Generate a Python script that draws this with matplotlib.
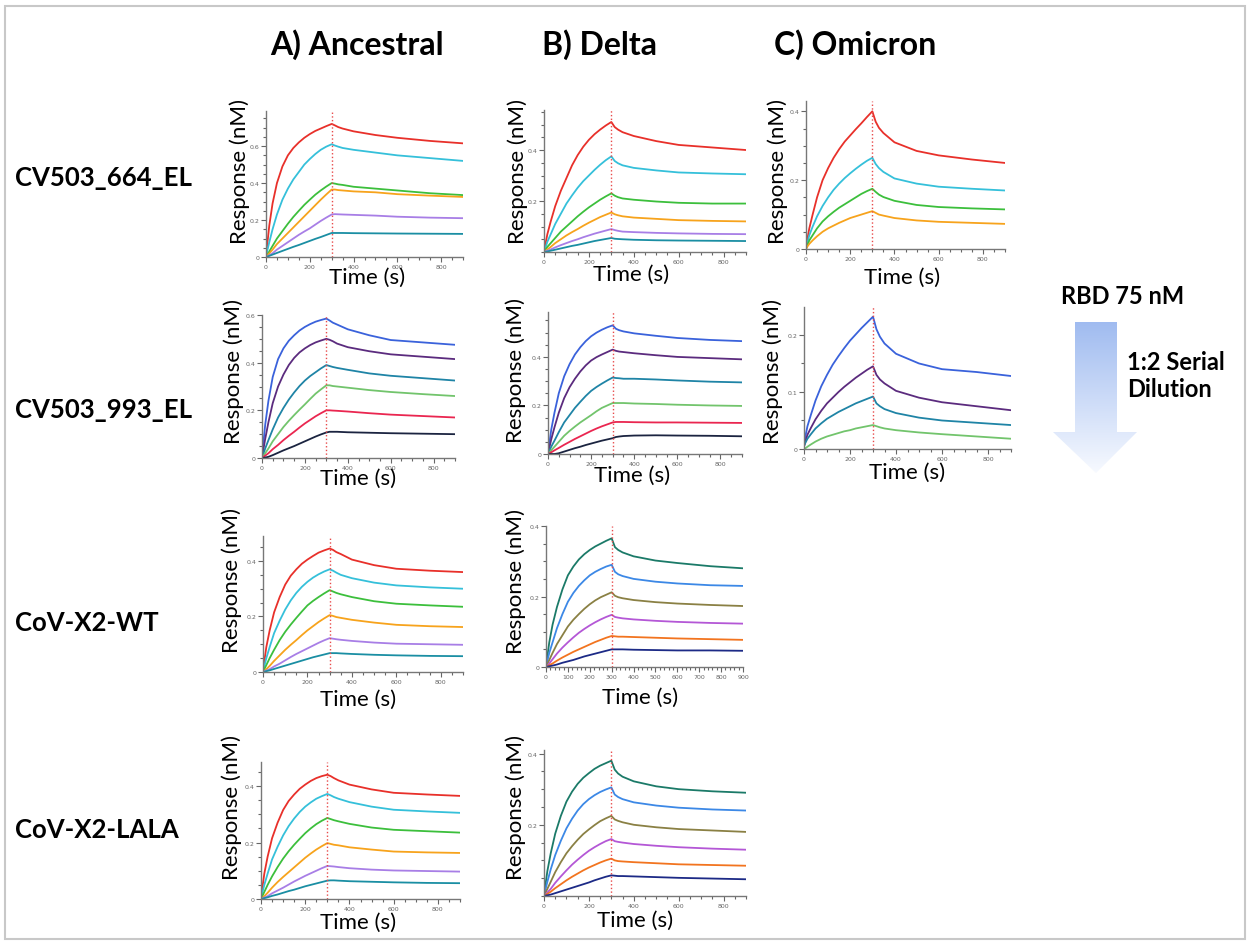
import matplotlib
matplotlib.use("Agg")
import matplotlib.pyplot as plt
import numpy as np
from matplotlib.patches import Polygon, Rectangle
from matplotlib.ticker import MultipleLocator, FixedLocator, FuncFormatter

plt.rcParams['font.family'] = ['Lato', 'DejaVu Sans']

t = [0, 5, 15, 30, 50, 75, 100, 125, 150, 175, 200, 225, 250, 275, 300,
     315, 330, 350, 400, 500, 600, 750, 900]

# CV503_664_EL
anc_664 = [
    [0, 0.06, 0.17, 0.29, 0.40, 0.49, 0.55, 0.59, 0.62, 0.645, 0.665, 0.682, 0.695, 0.708, 0.72, 0.712, 0.703, 0.695, 0.68, 0.66, 0.645, 0.628, 0.615],
    [0, 0.03, 0.08, 0.15, 0.23, 0.31, 0.37, 0.42, 0.46, 0.50, 0.53, 0.557, 0.58, 0.597, 0.61, 0.603, 0.597, 0.59, 0.58, 0.565, 0.55, 0.535, 0.52],
    [0, 0.01, 0.03, 0.06, 0.10, 0.14, 0.18, 0.217, 0.25, 0.282, 0.31, 0.337, 0.36, 0.381, 0.40, 0.397, 0.393, 0.39, 0.38, 0.37, 0.36, 0.345, 0.335],
    [0, 0.007, 0.02, 0.04, 0.07, 0.10, 0.13, 0.16, 0.19, 0.22, 0.25, 0.28, 0.31, 0.338, 0.365, 0.365, 0.362, 0.36, 0.355, 0.35, 0.34, 0.332, 0.325],
    [0, 0.003, 0.01, 0.02, 0.04, 0.06, 0.08, 0.10, 0.12, 0.138, 0.155, 0.175, 0.195, 0.213, 0.23, 0.232, 0.231, 0.23, 0.228, 0.224, 0.218, 0.213, 0.21],
    [0, 0.002, 0.006, 0.013, 0.022, 0.033, 0.044, 0.055, 0.065, 0.076, 0.087, 0.098, 0.108, 0.119, 0.13, 0.13, 0.13, 0.13, 0.129, 0.128, 0.127, 0.126, 0.125],
]
del_664 = [
    [0, 0.025, 0.07, 0.12, 0.18, 0.24, 0.29, 0.34, 0.38, 0.413, 0.44, 0.462, 0.48, 0.496, 0.51, 0.49, 0.48, 0.47, 0.455, 0.435, 0.42, 0.41, 0.40],
    [0, 0.013, 0.04, 0.07, 0.11, 0.15, 0.19, 0.222, 0.252, 0.278, 0.30, 0.322, 0.342, 0.36, 0.375, 0.357, 0.348, 0.34, 0.33, 0.32, 0.312, 0.308, 0.305],
    [0, 0.007, 0.02, 0.035, 0.055, 0.08, 0.10, 0.12, 0.14, 0.158, 0.175, 0.19, 0.205, 0.218, 0.23, 0.221, 0.215, 0.21, 0.205, 0.198, 0.193, 0.19, 0.19],
    [0, 0.003, 0.01, 0.02, 0.035, 0.05, 0.065, 0.078, 0.09, 0.103, 0.115, 0.126, 0.137, 0.146, 0.155, 0.148, 0.144, 0.14, 0.135, 0.13, 0.125, 0.122, 0.12],
    [0, 0.002, 0.005, 0.01, 0.018, 0.027, 0.035, 0.043, 0.05, 0.058, 0.065, 0.072, 0.078, 0.084, 0.09, 0.086, 0.083, 0.08, 0.078, 0.075, 0.073, 0.071, 0.07],
    [0, 0.001, 0.002, 0.005, 0.009, 0.014, 0.019, 0.024, 0.028, 0.033, 0.038, 0.043, 0.047, 0.051, 0.055, 0.052, 0.051, 0.05, 0.048, 0.046, 0.045, 0.044, 0.043],
]
omi_664 = [
    [0, 0.025, 0.06, 0.10, 0.15, 0.20, 0.235, 0.265, 0.29, 0.312, 0.33, 0.348, 0.365, 0.383, 0.40, 0.37, 0.352, 0.337, 0.31, 0.285, 0.272, 0.26, 0.25],
    [0, 0.015, 0.04, 0.065, 0.095, 0.125, 0.15, 0.172, 0.19, 0.206, 0.22, 0.233, 0.245, 0.256, 0.265, 0.247, 0.235, 0.224, 0.205, 0.19, 0.181, 0.175, 0.17],
    [0, 0.01, 0.025, 0.04, 0.06, 0.08, 0.095, 0.108, 0.12, 0.13, 0.14, 0.15, 0.16, 0.168, 0.175, 0.166, 0.158, 0.151, 0.14, 0.128, 0.122, 0.118, 0.115],
    [0, 0.006, 0.015, 0.025, 0.037, 0.05, 0.06, 0.068, 0.076, 0.083, 0.09, 0.095, 0.10, 0.105, 0.11, 0.105, 0.10, 0.097, 0.09, 0.083, 0.079, 0.076, 0.073],
]

# CV503_993_EL
anc_993 = [
    [0, 0.05, 0.14, 0.24, 0.34, 0.415, 0.46, 0.492, 0.515, 0.535, 0.55, 0.562, 0.572, 0.579, 0.585, 0.577, 0.568, 0.56, 0.54, 0.515, 0.495, 0.485, 0.475],
    [0, 0.028, 0.08, 0.15, 0.23, 0.30, 0.35, 0.39, 0.42, 0.443, 0.46, 0.474, 0.485, 0.493, 0.50, 0.496, 0.49, 0.48, 0.465, 0.448, 0.435, 0.425, 0.415],
    [0, 0.013, 0.04, 0.075, 0.12, 0.17, 0.21, 0.245, 0.275, 0.302, 0.325, 0.344, 0.36, 0.376, 0.39, 0.386, 0.382, 0.378, 0.37, 0.355, 0.345, 0.335, 0.325],
    [0, 0.007, 0.02, 0.04, 0.07, 0.10, 0.13, 0.156, 0.18, 0.203, 0.225, 0.248, 0.27, 0.288, 0.305, 0.305, 0.302, 0.30, 0.295, 0.285, 0.277, 0.268, 0.26],
    [0, 0.003, 0.01, 0.02, 0.037, 0.055, 0.075, 0.093, 0.11, 0.128, 0.145, 0.16, 0.175, 0.188, 0.20, 0.20, 0.199, 0.198, 0.195, 0.188, 0.182, 0.176, 0.17],
    [0, 0, 0.002, 0.005, 0.012, 0.022, 0.032, 0.041, 0.05, 0.06, 0.07, 0.08, 0.09, 0.099, 0.107, 0.11, 0.11, 0.11, 0.108, 0.106, 0.104, 0.102, 0.10],
]
del_993 = [
    [0, 0.035, 0.10, 0.17, 0.25, 0.32, 0.37, 0.41, 0.44, 0.465, 0.485, 0.50, 0.512, 0.522, 0.53, 0.516, 0.51, 0.505, 0.497, 0.487, 0.478, 0.47, 0.465],
    [0, 0.02, 0.06, 0.11, 0.17, 0.23, 0.275, 0.31, 0.34, 0.365, 0.385, 0.399, 0.41, 0.42, 0.43, 0.425, 0.422, 0.42, 0.415, 0.407, 0.40, 0.395, 0.39],
    [0, 0.01, 0.03, 0.055, 0.09, 0.13, 0.16, 0.19, 0.215, 0.239, 0.26, 0.276, 0.29, 0.303, 0.315, 0.313, 0.312, 0.31, 0.31, 0.307, 0.303, 0.298, 0.295],
    [0, 0.005, 0.015, 0.03, 0.05, 0.075, 0.095, 0.113, 0.13, 0.145, 0.16, 0.176, 0.19, 0.20, 0.21, 0.21, 0.21, 0.21, 0.208, 0.206, 0.203, 0.20, 0.198],
    [0, 0.002, 0.007, 0.015, 0.025, 0.038, 0.05, 0.062, 0.073, 0.084, 0.095, 0.105, 0.114, 0.122, 0.13, 0.132, 0.132, 0.132, 0.131, 0.13, 0.13, 0.129, 0.128],
    [0, 0, 0, 0, 0.003, 0.01, 0.017, 0.024, 0.03, 0.037, 0.043, 0.049, 0.055, 0.06, 0.065, 0.07, 0.072, 0.074, 0.076, 0.077, 0.076, 0.075, 0.073],
]
omi_993 = [
    [0.005, 0.02, 0.04, 0.06, 0.085, 0.11, 0.13, 0.148, 0.163, 0.177, 0.19, 0.201, 0.212, 0.222, 0.232, 0.21, 0.197, 0.185, 0.167, 0.15, 0.14, 0.135, 0.128],
    [0.005, 0.012, 0.025, 0.037, 0.052, 0.067, 0.08, 0.09, 0.10, 0.109, 0.117, 0.125, 0.132, 0.139, 0.145, 0.13, 0.122, 0.115, 0.102, 0.09, 0.082, 0.075, 0.068],
    [0.005, 0.01, 0.018, 0.026, 0.036, 0.045, 0.053, 0.059, 0.065, 0.07, 0.075, 0.08, 0.084, 0.088, 0.092, 0.08, 0.075, 0.07, 0.063, 0.055, 0.05, 0.046, 0.042],
    [0, 0.001, 0.004, 0.008, 0.013, 0.018, 0.022, 0.025, 0.028, 0.031, 0.033, 0.036, 0.038, 0.04, 0.042, 0.04, 0.038, 0.036, 0.033, 0.029, 0.026, 0.022, 0.018],
]

# CoV-X2-WT
anc_wt = [
    [0, 0.033, 0.09, 0.15, 0.215, 0.27, 0.315, 0.347, 0.37, 0.39, 0.405, 0.418, 0.43, 0.438, 0.445, 0.44, 0.432, 0.425, 0.405, 0.385, 0.372, 0.365, 0.36],
    [0, 0.018, 0.05, 0.09, 0.14, 0.185, 0.225, 0.258, 0.285, 0.307, 0.325, 0.34, 0.352, 0.362, 0.37, 0.365, 0.358, 0.35, 0.338, 0.322, 0.312, 0.305, 0.30],
    [0, 0.008, 0.025, 0.05, 0.08, 0.115, 0.145, 0.171, 0.195, 0.218, 0.24, 0.256, 0.27, 0.283, 0.295, 0.29, 0.285, 0.28, 0.27, 0.255, 0.246, 0.24, 0.235],
    [0, 0.003, 0.01, 0.022, 0.04, 0.06, 0.08, 0.098, 0.115, 0.133, 0.15, 0.165, 0.18, 0.193, 0.205, 0.202, 0.198, 0.195, 0.188, 0.178, 0.17, 0.165, 0.162],
    [0, 0.002, 0.005, 0.01, 0.02, 0.03, 0.042, 0.054, 0.065, 0.075, 0.085, 0.095, 0.105, 0.114, 0.122, 0.12, 0.118, 0.116, 0.112, 0.106, 0.102, 0.10, 0.098],
    [0, 0.001, 0.003, 0.006, 0.011, 0.017, 0.023, 0.029, 0.035, 0.041, 0.047, 0.053, 0.058, 0.063, 0.068, 0.068, 0.068, 0.067, 0.065, 0.062, 0.06, 0.058, 0.057],
]
del_wt = [
    [0, 0.025, 0.07, 0.12, 0.17, 0.22, 0.26, 0.285, 0.305, 0.32, 0.332, 0.342, 0.35, 0.358, 0.365, 0.34, 0.332, 0.325, 0.314, 0.302, 0.295, 0.286, 0.28],
    [0, 0.014, 0.04, 0.07, 0.11, 0.15, 0.185, 0.21, 0.23, 0.246, 0.26, 0.27, 0.278, 0.285, 0.29, 0.27, 0.263, 0.258, 0.25, 0.242, 0.237, 0.232, 0.23],
    [0, 0.007, 0.02, 0.04, 0.065, 0.09, 0.115, 0.134, 0.15, 0.165, 0.178, 0.189, 0.198, 0.205, 0.212, 0.202, 0.198, 0.195, 0.19, 0.184, 0.18, 0.176, 0.173],
    [0, 0.003, 0.01, 0.022, 0.038, 0.055, 0.07, 0.084, 0.097, 0.108, 0.118, 0.127, 0.135, 0.142, 0.148, 0.142, 0.14, 0.138, 0.135, 0.131, 0.128, 0.125, 0.123],
    [0, 0.002, 0.005, 0.01, 0.018, 0.027, 0.035, 0.043, 0.05, 0.057, 0.064, 0.071, 0.077, 0.083, 0.088, 0.087, 0.086, 0.086, 0.085, 0.083, 0.081, 0.079, 0.077],
    [0, 0.001, 0.002, 0.004, 0.007, 0.012, 0.016, 0.02, 0.025, 0.03, 0.034, 0.038, 0.042, 0.046, 0.05, 0.05, 0.05, 0.05, 0.049, 0.048, 0.047, 0.047, 0.046],
]

# CoV-X2-LALA
anc_lala = [
    [0, 0.033, 0.09, 0.15, 0.215, 0.27, 0.315, 0.347, 0.37, 0.39, 0.405, 0.418, 0.428, 0.435, 0.44, 0.435, 0.428, 0.42, 0.405, 0.388, 0.376, 0.37, 0.365],
    [0, 0.018, 0.05, 0.09, 0.14, 0.185, 0.225, 0.258, 0.285, 0.308, 0.327, 0.342, 0.355, 0.364, 0.372, 0.367, 0.361, 0.355, 0.343, 0.327, 0.316, 0.31, 0.305],
    [0, 0.008, 0.025, 0.05, 0.08, 0.113, 0.143, 0.169, 0.192, 0.213, 0.233, 0.25, 0.265, 0.277, 0.287, 0.283, 0.279, 0.275, 0.266, 0.253, 0.245, 0.24, 0.235],
    [0, 0.003, 0.01, 0.022, 0.04, 0.06, 0.078, 0.095, 0.112, 0.129, 0.146, 0.161, 0.175, 0.187, 0.198, 0.195, 0.192, 0.19, 0.183, 0.175, 0.168, 0.165, 0.163],
    [0, 0.002, 0.005, 0.01, 0.02, 0.03, 0.04, 0.051, 0.062, 0.072, 0.082, 0.091, 0.10, 0.109, 0.117, 0.116, 0.115, 0.113, 0.109, 0.104, 0.101, 0.099, 0.097],
    [0, 0.001, 0.003, 0.006, 0.011, 0.016, 0.022, 0.028, 0.033, 0.039, 0.045, 0.05, 0.055, 0.06, 0.065, 0.066, 0.066, 0.065, 0.063, 0.061, 0.059, 0.057, 0.056],
]
del_lala = [
    [0, 0.025, 0.07, 0.12, 0.175, 0.225, 0.265, 0.293, 0.315, 0.332, 0.345, 0.357, 0.366, 0.373, 0.38, 0.355, 0.344, 0.335, 0.322, 0.308, 0.30, 0.294, 0.29],
    [0, 0.014, 0.04, 0.075, 0.115, 0.155, 0.19, 0.217, 0.24, 0.258, 0.272, 0.283, 0.292, 0.299, 0.305, 0.285, 0.278, 0.272, 0.263, 0.254, 0.248, 0.243, 0.24],
    [0, 0.007, 0.02, 0.04, 0.067, 0.095, 0.12, 0.14, 0.158, 0.174, 0.187, 0.199, 0.21, 0.218, 0.225, 0.215, 0.211, 0.207, 0.20, 0.193, 0.188, 0.184, 0.18],
    [0, 0.003, 0.01, 0.02, 0.037, 0.055, 0.072, 0.088, 0.102, 0.115, 0.127, 0.137, 0.146, 0.154, 0.16, 0.154, 0.152, 0.15, 0.146, 0.141, 0.137, 0.133, 0.13],
    [0, 0.002, 0.006, 0.012, 0.022, 0.033, 0.044, 0.054, 0.063, 0.072, 0.08, 0.087, 0.094, 0.10, 0.105, 0.10, 0.098, 0.097, 0.095, 0.092, 0.089, 0.087, 0.085],
    [0, 0.001, 0.002, 0.004, 0.008, 0.013, 0.018, 0.023, 0.028, 0.033, 0.038, 0.044, 0.049, 0.054, 0.058, 0.057, 0.056, 0.056, 0.055, 0.053, 0.051, 0.049, 0.047],
]

col_titles = ["A) Ancestral", "B) Delta", "C) Omicron"]
row_names = ["CV503_664_EL", "CV503_993_EL", "CoV-X2-WT", "CoV-X2-LALA"]

# colour sets
c_rainbow = ['#e8302a', '#35c0da', '#3cbf3c', '#f7a31c', '#a87ee6', '#1a8ea3']
c_993 = ['#3a62db', '#5b2b7e', '#1f84a6', '#72c46c', '#ea2650', '#1b2440']
c_delta = ['#1b7a68', '#3c88e6', '#8a8044', '#b457d6', '#f2741f', '#1c2a86']

W, H = 1251, 945
fig = plt.figure(figsize=(12.51, 9.45), dpi=100)

# background layer in pixel coordinates (frame + arrow)
bg = fig.add_axes([0, 0, 1, 1])
bg.set_xlim(0, W)
bg.set_ylim(H, 0)
bg.axis('off')
bg.add_patch(Rectangle((5, 7), 1240, 933, fill=False, ec='#c8c8c8', lw=1.5))

arrow = Polygon([(1075, 323), (1117, 323), (1117, 433), (1137, 433), (1096, 474),
                 (1053, 433), (1075, 433)], closed=True, fc='none', ec='none',
                transform=bg.transData)
bg.add_patch(arrow)
grad = np.linspace(0, 1, 200)[:, None]
top_c = np.array([0.62, 0.73, 0.94])
bot_c = np.array([0.97, 0.98, 1.0])
rgb = (top_c[None, None, :] * (1 - grad[:, :, None]) + bot_c[None, None, :] * grad[:, :, None])
im = bg.imshow(rgb, extent=(1050, 1140, 475, 320), origin='upper', aspect='auto')
im.set_clip_path(arrow)
bg.set_xlim(0, W)
bg.set_ylim(H, 0)

fig.text(1123 / W, 1 - 297 / H, "RBD 75 nM", ha='center', va='center', fontsize=17, fontweight='bold')
fig.text(1127 / W, 1 - 376 / H, "1:2 Serial\nDilution", ha='left', va='center', fontsize=17,
         fontweight='bold', linespacing=1.25)

# column titles and row names
for name, cx in zip(col_titles, [357, 600, 855]):
    fig.text(cx / W, 1 - 45 / H, name, ha='center', va='center', fontsize=23, fontweight='bold')
for name, cy in zip(row_names, [178, 410, 623, 830]):
    fig.text(15 / W, 1 - cy / H, name, ha='left', va='center', fontsize=18.5, fontweight='bold')


def fmt(v, pos):
    return '0' if abs(v) < 1e-9 else '%g' % v


def panel(px, ymax, curves, colors, yticks, ylab, xlab, xstep=200, xminor=50):
    x0, x1, ytop, ybot = px
    w, h = x1 - x0, ybot - ytop
    ax = fig.add_axes([x0 / W, 1 - ybot / H, w / W, h / H])
    for c, col in zip(curves, colors):
        ax.plot(t, c, color=col, lw=1.3, solid_joinstyle='round')
    ax.axvline(300, color='#e84a4a', ls=':', lw=1)
    ax.set_xlim(0, 900)
    ax.set_ylim(0, ymax)
    ax.patch.set_alpha(0)
    for s in ['top', 'right']:
        ax.spines[s].set_visible(False)
    for s in ['left', 'bottom']:
        ax.spines[s].set_color('#777777')
        ax.spines[s].set_linewidth(1)
    ax.xaxis.set_major_locator(MultipleLocator(xstep))
    ax.xaxis.set_minor_locator(MultipleLocator(xminor))
    ax.yaxis.set_major_locator(FixedLocator(yticks))
    ax.yaxis.set_minor_locator(MultipleLocator(0.05))
    ax.xaxis.set_major_formatter(FuncFormatter(fmt))
    ax.yaxis.set_major_formatter(FuncFormatter(fmt))
    ax.tick_params(which='both', direction='out', colors='#666666', labelsize=4.5, width=0.8)
    ax.tick_params(which='major', length=3.5, pad=1.2)
    ax.tick_params(which='minor', length=2.5)
    for lab in ax.get_xticklabels() + ax.get_yticklabels():
        lab.set_family('DejaVu Sans')
    ax.set_ylabel("Response (nM)", fontsize=16)
    ax.yaxis.set_label_coords((ylab[0] - x0) / w, (ybot - ylab[1]) / h)
    ax.set_xlabel("Time (s)", fontsize=16)
    ax.xaxis.set_label_coords((xlab[0] - x0) / w, -(xlab[1] - ybot) / h)
    return ax


panel((266, 463, 112, 258), 0.79, anc_664, c_rainbow, [0, 0.2, 0.4, 0.6], (250, 172), (367, 268))
panel((544, 746, 111, 253), 0.557, del_664, c_rainbow, [0.2, 0.4], (528, 172), (631, 265))
panel((806, 1005, 102, 250), 0.43, omi_664, c_rainbow[:4], [0, 0.2, 0.4], (788, 172), (902, 268))

panel((262, 455, 316, 459), 0.6, anc_993, c_993, [0, 0.2, 0.4, 0.6], (244, 371), (358, 469))
panel((548, 742, 313, 455), 0.585, del_993, c_993, [0, 0.2, 0.4], (526, 371), (632, 466))
panel((804, 1011, 308, 450), 0.249, omi_993, c_993[:4], [0, 0.1, 0.2], (783, 371), (907, 463))

panel((263, 463, 537, 673), 0.49, anc_wt, c_rainbow, [0, 0.2, 0.4], (242, 581), (358, 690))
panel((546, 743, 527, 668), 0.4, del_wt, c_delta, [0, 0.2, 0.4], (526, 582), (640, 688),
      xstep=100, xminor=20)

panel((261, 460, 763, 900), 0.485, anc_lala, c_rainbow, [0, 0.2, 0.4], (242, 808), (358, 913))
panel((544, 746, 751, 897), 0.41, del_lala, c_delta, [0.2, 0.4], (526, 808), (635, 911))

fig.savefig("out.png", dpi=100, facecolor='white')
